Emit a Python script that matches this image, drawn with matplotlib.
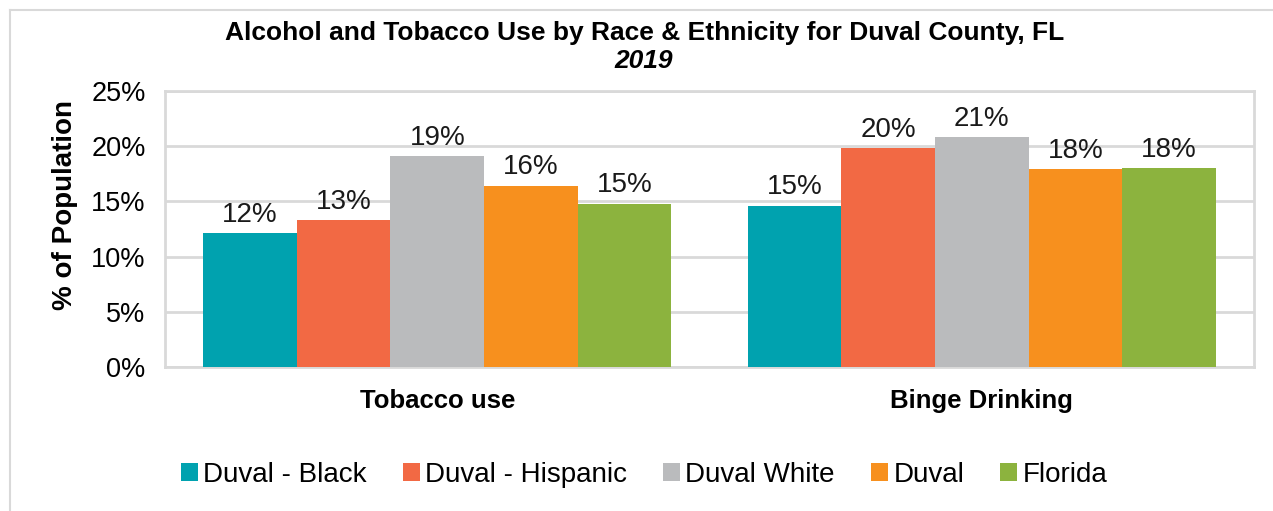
import matplotlib.pyplot as plt
import numpy as np
from matplotlib.lines import Line2D
from matplotlib.patches import Patch

plt.rcParams['font.family'] = ['Liberation Sans', 'DejaVu Sans']

categories = ['Tobacco use', 'Binge Drinking']
series_names = ['Duval - Black', 'Duval - Hispanic', 'Duval White', 'Duval', 'Florida']
black = [12.1, 14.6]
hispanic = [13.3, 19.8]
white = [19.1, 20.8]
duval = [16.4, 17.9]
florida = [14.8, 18.0]
colors = ['#00A2AF', '#F26944', '#BABBBD', '#F7901E', '#8CB33E']

yticks = [0, 5, 10, 15, 20, 25]

fig = plt.figure(figsize=(12.73, 5.11), dpi=100)
ax = fig.add_axes([165 / 1273, 1 - 367 / 511, (1254 - 165) / 1273, (367 - 91) / 511])

x = np.arange(len(categories))
bar_w = 0.172
all_series = [black, hispanic, white, duval, florida]
for i, (vals, col, name) in enumerate(zip(all_series, colors, series_names)):
    pos = x + (i - 2) * bar_w
    bars = ax.bar(pos, vals, bar_w, color=col, label=name, zorder=3)
    for b, v in zip(bars, vals):
        ax.text(b.get_x() + b.get_width() / 2, v + 0.5, '{:.0f}%'.format(v),
                ha='center', va='bottom', fontsize=20, color='#1a1a1a')

ax.set_xlim(-0.5, 1.5)
ax.set_ylim(0, 25)
ax.set_yticks(yticks)
ax.set_yticklabels(['{}%'.format(t) for t in yticks], fontsize=19.5)
ax.set_xticks(x)
ax.set_xticklabels(categories, fontsize=18.5, fontweight='bold')
ax.tick_params(axis='both', length=0)
ax.tick_params(axis='x', pad=16)
ax.tick_params(axis='y', pad=14)
ax.grid(axis='y', color='#D9D9D9', linewidth=2, zorder=0)
for s in ax.spines.values():
    s.set_color('#D9D9D9')
    s.set_linewidth(2)

ax.set_ylabel('% of Population', fontsize=20, fontweight='bold')
ax.yaxis.set_label_coords(-0.080, 0.587)

fig.text(0.506, 1 - 33 / 511, 'Alcohol and Tobacco Use by Race & Ethnicity for Duval County, FL',
         ha='center', va='center', fontsize=19, fontweight='bold')
fig.text(0.506, 1 - 61 / 511, '2019', ha='center', va='center', fontsize=19,
         fontweight='bold', style='italic')

# outer chart border
fig.add_artist(Line2D([10 / 1273, 10 / 1273], [0, 1 - 10 / 511], transform=fig.transFigure,
                      color='#D9D9D9', linewidth=1.5))
fig.add_artist(Line2D([10 / 1273, 1], [1 - 10 / 511, 1 - 10 / 511], transform=fig.transFigure,
                      color='#D9D9D9', linewidth=1.5))

handles = [Patch(facecolor=c, label=n) for c, n in zip(colors, series_names)]
fig.legend(handles=handles, loc='center', bbox_to_anchor=(0.506, 1 - 475 / 511), ncol=5,
           frameon=False, fontsize=20, handlelength=0.6, handleheight=0.6,
           handletextpad=0.2, columnspacing=1.3)

fig.savefig('out.png', dpi=100)
